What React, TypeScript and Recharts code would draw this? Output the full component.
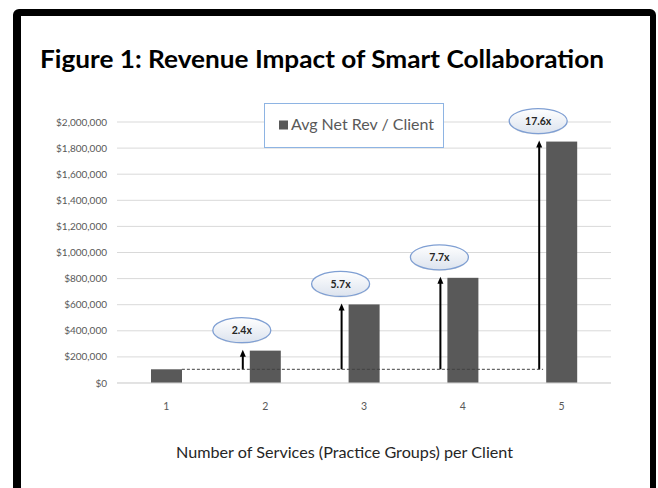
import React from 'react';
import { BarChart, Bar, XAxis, YAxis, CartesianGrid, ReferenceLine } from 'recharts';

const services = ['1', '2', '3', '4', '5'];
const avgNetRev = [105000, 248000, 602000, 806000, 1850000];
const multipliers = ['', '2.4x', '5.7x', '7.7x', '17.6x'];
const yTicks = [0, 200000, 400000, 600000, 800000, 1000000, 1200000, 1400000, 1600000, 1800000, 2000000];

const titleText = 'Figure 1: Revenue Impact of Smart Collaboration';
const xAxisTitle = 'Number of Services (Practice Groups) per Client';
const legendText = 'Avg Net Rev / Client';

const data = services.map((s, i) => ({ services: s, rev: avgNetRev[i], mult: multipliers[i] }));

const FONT = 'Lato, "Open Sans", sans-serif';
const BAR_COLOR = '#595959';
const BAR_SIZE = 31;
const ARROW_GAP = 7;

const fmtMoney = (v: number) => '$' + v.toLocaleString('en-US');

function AnnotatedBar(props: any) {
  const { x, y, width, height, payload, index } = props;
  const rect = <rect x={x} y={y} width={width} height={height} fill={BAR_COLOR} />;
  if (!payload || !payload.mult) return rect;
  const ax = x - ARROW_GAP;
  const baseY = y + height - (height * avgNetRev[0]) / payload.rev;
  const cx = ax - 1;
  const cy = y - 20.5;
  const gid = `ellGrad${index}`;
  return (
    <g>
      {rect}
      <line x1={ax} y1={baseY} x2={ax} y2={y + 5} stroke="#000" strokeWidth={2} />
      <polygon points={`${ax},${y - 1} ${ax - 3},${y + 6} ${ax + 3},${y + 6}`} fill="#000" />
      <defs>
        <linearGradient id={gid} x1="0" y1="0" x2="0" y2="1">
          <stop offset="0%" stopColor="#ffffff" />
          <stop offset="100%" stopColor="#dce3ee" />
        </linearGradient>
      </defs>
      <ellipse cx={cx} cy={cy + 1} rx={29} ry={12.5} fill="#c9c9c9" opacity={0.5} />
      <ellipse cx={cx} cy={cy} rx={29} ry={12.5} fill={`url(#${gid})`} stroke="#7f9fd3" strokeWidth={1.3} />
      <text x={cx} y={cy} textAnchor="middle" dominantBaseline="central" fontFamily={FONT} fontWeight={700} fontSize={10.5} fill="#262626">
        {payload.mult}
      </text>
    </g>
  );
}

function BaseLine(props: any) {
  const { x1, y1, x2 } = props;
  if (x1 == null) return null;
  return (
    <line
      x1={x1 + BAR_SIZE / 2}
      y1={y1}
      x2={x2 - BAR_SIZE / 2 - ARROW_GAP + 4}
      y2={y1}
      stroke="#404040"
      strokeWidth={1}
      strokeDasharray="3 2"
    />
  );
}

export default function App() {
  return (
    <div style={{ position: 'absolute', left: 0, top: 0, width: 658, height: 488, overflow: 'hidden', background: '#fff' }}>
      <div
        style={{
          position: 'absolute',
          left: 13,
          top: 9,
          width: 643,
          height: 540,
          boxSizing: 'border-box',
          borderStyle: 'solid',
          borderColor: '#000',
          borderWidth: '7px 6px 7px 8px',
          borderRadius: 6,
          background: '#fff',
        }}
      />
      <div style={{ position: 'absolute', left: 0, top: 0 }}>
        <BarChart width={658} height={488} data={data} margin={{ top: 122, right: 47, bottom: 0, left: 0 }}>
          <CartesianGrid vertical={false} stroke="#d9d9d9" />
          <XAxis
            dataKey="services"
            height={105}
            tickLine={false}
            axisLine={{ stroke: '#d9d9d9' }}
            tickMargin={14}
            tick={{ fontSize: 10.5, fill: '#595959', fontFamily: FONT }}
          />
          <YAxis
            type="number"
            domain={[0, 2000000]}
            ticks={yTicks}
            width={117}
            tickLine={false}
            axisLine={false}
            tickMargin={4}
            tickFormatter={fmtMoney}
            tick={{ fontSize: 10, fill: '#595959', fontFamily: FONT }}
          />
          <ReferenceLine
            segment={[{ x: services[0], y: avgNetRev[0] }, { x: services[services.length - 1], y: avgNetRev[0] }]}
            shape={BaseLine}
            ifOverflow="visible"
          />
          <Bar dataKey="rev" barSize={BAR_SIZE} fill={BAR_COLOR} shape={AnnotatedBar} isAnimationActive={false} />
        </BarChart>
      </div>
      <svg width={658} height={488} style={{ position: 'absolute', left: 0, top: 0, pointerEvents: 'none' }}>
        <text x={40} y={67.5} fontFamily={FONT} fontWeight={700} fontSize={24} fill="#000" textLength={564} lengthAdjust="spacingAndGlyphs">
          {titleText}
        </text>
        <text x={176} y={458} fontFamily={FONT} fontSize={15} fill="#262626" textLength={337} lengthAdjust="spacingAndGlyphs">
          {xAxisTitle}
        </text>
        <rect x={264.5} y={103.5} width={179} height={44} fill="#fff" stroke="#8eb4e3" strokeWidth={1} />
        <rect x={279} y={120.5} width={9} height={9} fill={BAR_COLOR} />
        <text x={291} y={130} fontFamily={FONT} fontSize={15} fill="#595959" textLength={143} lengthAdjust="spacingAndGlyphs">
          {legendText}
        </text>
      </svg>
    </div>
  );
}
